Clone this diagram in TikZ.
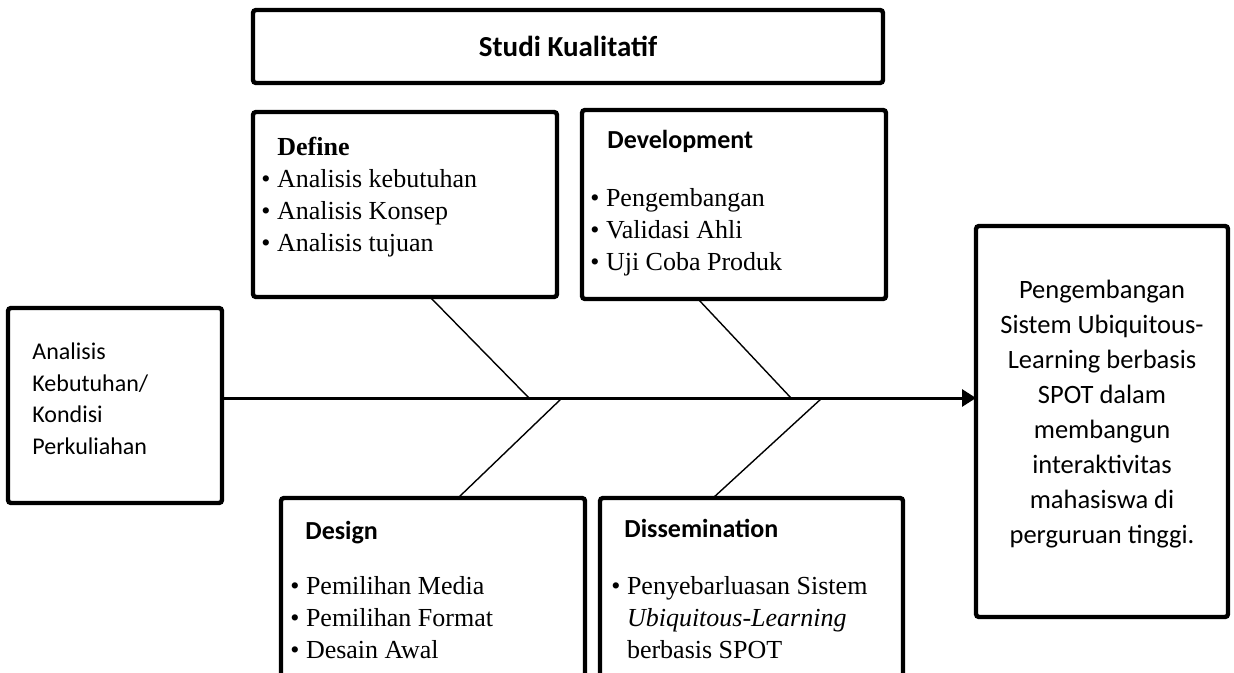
\documentclass[tikz,border=0pt]{standalone}
\usepackage{fontspec}
\setmainfont{Liberation Serif}
\setsansfont{Carlito}
\usetikzlibrary{positioning,arrows.meta}

\begin{document}
\begin{tikzpicture}[x=0.5pt, y=-0.5pt, >={Triangle[length=7pt,width=8.5pt]},
      box/.style={draw, line width=2.2pt, rounded corners=1.5pt, anchor=north west, inner sep=0pt, outer sep=0pt},
      items/.style={font=\fontsize{13}{16}\selectfont, align=left, inner sep=0pt, anchor=north west},
      head/.style={font=\sffamily\bfseries\fontsize{13}{16}\selectfont, inner sep=0pt, anchor=north west},
      bone/.style={line width=0.7pt}]
  \useasboundingbox (0,0) rectangle (1234,673);
  \clip (0,0) rectangle (1234,673);
  % boxes
  \node[box, minimum width=315pt, minimum height=36.5pt, font=\sffamily\bfseries\fontsize{14.5}{17}\selectfont] (kual) at (253,10) {Studi Kualitatif};
  \node[box, minimum width=152pt, minimum height=92.5pt] (def) at (253,112) {};
  \node[box, minimum width=152pt, minimum height=94.5pt] (dev) at (582,110) {};
  \node[box, minimum width=107pt, minimum height=97.5pt] (kond) at (8,308) {};
  \node[box, minimum width=126pt, minimum height=195.5pt] (hasil) at (976,226) {};
  \node[box, minimum width=152pt, minimum height=115pt] (des) at (281,498) {};
  \node[box, minimum width=151.5pt, minimum height=115pt] (dis) at (600,498) {};
  % texts
  \node[head, font=\rmfamily\bfseries\fontsize{13}{16}\selectfont] (deft) at (277,137) {Define};
  \node[items] (defl) at (261,169) {\textbullet\ Analisis kebutuhan\\\textbullet\ Analisis Konsep\\\textbullet\ Analisis tujuan};
  \node[head] (devt) at (607,130) {Development};
  \node[items] (devl) at (590,188) {\textbullet\ Pengembangan\\\textbullet\ Validasi Ahli\\\textbullet\ Uji Coba Produk};
  \node[head] (dest) at (305,521) {Design};
  \node[items] (desl) at (290,576) {\textbullet\ Pemilihan Media\\\textbullet\ Pemilihan Format\\\textbullet\ Desain Awal};
  \node[head] (dist) at (624,519) {Dissemination};
  \node[items] (disl) at (611,576) {\textbullet\ Penyebarluasan Sistem\\\hphantom{\textbullet\ }\textit{Ubiquitous-Learning}\\\hphantom{\textbullet\ }berbasis SPOT};
  \node[font=\sffamily\fontsize{12}{15.75}\selectfont, align=left, anchor=west, inner sep=0pt] (kondt) at (32,399) {Analisis\\Kebutuhan/\\Kondisi\\Perkuliahan};
  \node[font=\sffamily\fontsize{13.25}{17.5}\selectfont, align=center, inner sep=0pt] (hasilt) at (1102,414) {Pengembangan\\Sistem Ubiquitous-\\Learning berbasis\\SPOT dalam\\membangun\\interaktivitas\\mahasiswa di\\perguruan tinggi.};
  % spine and bones
  \coordinate (m0) at ([yshift=3.75pt]kond.east);
  \coordinate (j1) at (529,398); \coordinate (j2) at (562,398);
  \coordinate (j3) at (791,398); \coordinate (j4) at (822,398);
  \draw[line width=1.5pt, ->] (m0) -- (m0 -| hasil.west);
  \draw[bone] ([xshift=12.5pt]def.south) -- (j1);
  \draw[bone] ([xshift=12.5pt]des.north) -- (j2);
  \draw[bone] ([xshift=-18pt]dev.south) -- (j3);
  \draw[bone] ([xshift=-19.25pt]dis.north) -- (j4);
\end{tikzpicture}
\end{document}
